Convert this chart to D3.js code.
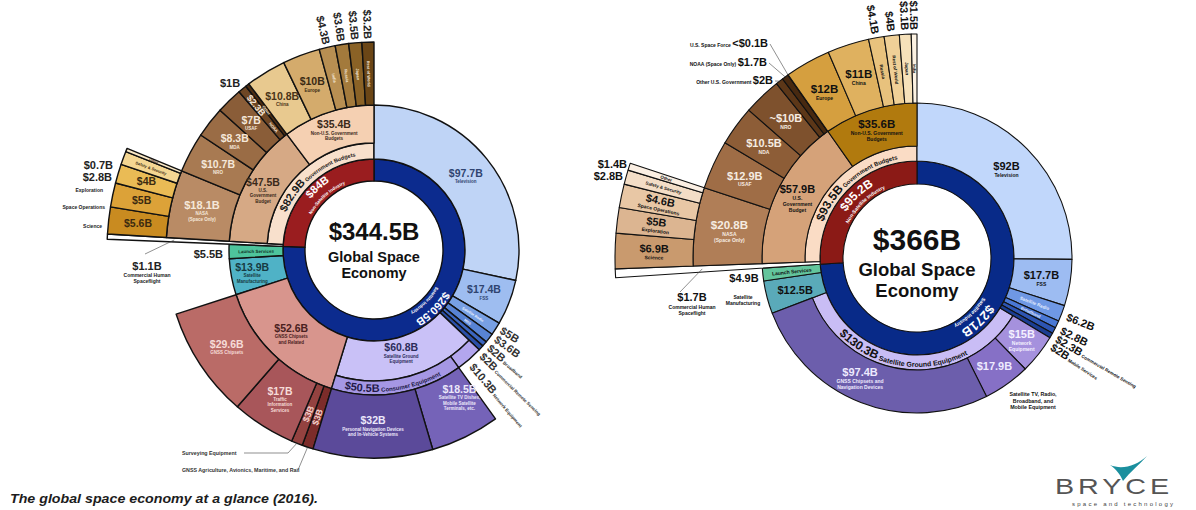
<!DOCTYPE html>
<html>
<head>
<meta charset="utf-8">
<script src="https://cdn.jsdelivr.net/npm/d3@7"></script>
<style>
  body { margin: 0; background: #fff; }
  svg { font-family: "Liberation Sans", Arial, Helvetica, sans-serif; }
</style>
</head>
<body>
<svg id="chart" width="1196" height="510"></svg>
<script>
// ---------- 2016 data (left) ----------
var services16 = ["Television", "FSS", "Satellite Radio", "MSS", "Broadband", "Commercial Remote Sensing"];
var servicesVal16 = [97.7, 17.4, 5, 3.6, 2, 2];
var network16 = ["Network Equipment"];
var networkVal16 = [10.3];
var consumer16 = ["Satellite TV Dishes, Mobile Satellite Terminals, etc.", "Personal Navigation Devices and In-Vehicle Systems"];
var consumerVal16 = [18.5, 32];
var gnss16 = ["GNSS Agriculture, Avionics, Maritime, and Rail", "Surveying Equipment", "Traffic Information Services", "GNSS Chipsets"];
var gnssVal16 = [3, 3, 17, 29.6];
var industry16 = ["Satellite Manufacturing", "Launch Services"];
var industryVal16 = [13.9, 5.5];
var human16 = ["Commercial Human Spaceflight"];
var humanVal16 = [1.1];
var nasa16 = ["Science", "Space Operations", "Exploration", "Safety & Security", "Other"];
var nasaVal16 = [5.6, 5, 4, 2.8, 0.7];
var usGov16 = ["NRO", "MDA", "USAF", "NOAA", "Other"];
var usGovVal16 = [10.7, 8.3, 7, 2.3, 1];
var nonUs16 = ["China", "Europe", "India", "Russia", "Japan", "Rest of World"];
var nonUsVal16 = [10.8, 10, 4.3, 3.6, 3.5, 3.2];
// stated totals printed on the chart
var groups16 = ["Global Space Economy", "Satellite Industry", "Non-Satellite Industry", "Government Budgets", "U.S. Government Budget", "Non-U.S. Government Budgets", "Satellite Ground Equipment", "Consumer Equipment", "GNSS Chipsets and Related", "NASA"];
var groupVals16 = [344.5, 260.5, 84, 82.9, 47.5, 35.4, 60.8, 50.5, 52.6, 18.1];

// ---------- current data (right) ----------
var services22 = ["Television", "FSS", "Satellite Radio", "Broadband", "Commercial Remote Sensing", "Mobile Services"];
var servicesVal22 = [92, 17.7, 6.2, 2.8, 2.3, 2];
var ground22 = ["Network Equipment", "Satellite TV, Radio, Broadband, and Mobile Equipment", "GNSS Chipsets and Navigation Devices"];
var groundVal22 = [15, 17.9, 97.4];
var industry22 = ["Satellite Manufacturing", "Launch Services"];
var industryVal22 = [12.5, 4.9];
var human22 = ["Commercial Human Spaceflight"];
var humanVal22 = [1.7];
var nasa22 = ["Science", "Exploration", "Space Operations", "Safety & Security", "Other"];
var nasaVal22 = [6.9, 5, 4.6, 2.8, 1.4];
var usGov22 = ["USAF", "NDA", "NRO", "Other U.S. Government", "NOAA", "U.S. Space Force"];
var usGovVal22 = [12.9, 10.5, 10, 2, 1.7, 0.1];
var nonUs22 = ["Europe", "China", "Russia", "Rest of World", "Japan", "India"];
var nonUsVal22 = [12, 11, 4.1, 4, 3.1, 1.5];
var groups22 = ["Global Space Economy", "Satellite Industry", "Non-Satellite Industry", "Government Budgets", "U.S. Government Budget", "Non-U.S. Government Budgets", "Satellite Ground Equipment", "NASA"];
var groupVals22 = [366, 271, 95.2, 93.5, 57.9, 35.6, 130.3, 20.8];
var valueText22 = { "NRO": "~$10B", "U.S. Space Force": "<$0.1B" };

// ---------- colours ----------
var fillServices16 = ["#bfd4f6", "#9ebdf0", "#78a0e4", "#5883d4", "#3c66c0", "#2a4fa8"];
var fillConsumer16 = ["#7563b8", "#5b4a9a"];
var fillGnss16 = ["#7c2c2a", "#944240", "#a8565a", "#ba6b67"];
var fillIndustry16 = ["#4fb2c6", "#4ec49c"];
var fillNasa16 = ["#c98b20", "#dca238", "#eabb55", "#f4d692", "#fbe9c6"];
var fillUs16 = ["#a87a52", "#9a6c45", "#8a5d38", "#6e4624", "#4e2e12"];
var fillNonUs16 = ["#e8c98f", "#d4ab6c", "#b88f52", "#a37a3c", "#8a6226", "#6b4616"];

var fillServices22 = ["#c1d7fb", "#9dbcf2", "#6f98e4", "#4a78d4", "#2d55b2", "#1b3d92"];
var fillGround22 = ["#a591dd", "#8670c6", "#6c5eac"];
var fillIndustry22 = ["#5aaab9", "#63c59c"];
var fillNasa22 = ["#c99a6e", "#dcb591", "#e8c7a5", "#f3ddc6", "#fbefe3"];
var fillUs22 = ["#9f6d46", "#8d5d37", "#7e512d", "#5c3718", "#472910", "#2d1808"];
var fillNonUs22 = ["#d59f3f", "#dfb15f", "#e8c27d", "#efd097", "#f6e1b9", "#fcf2e2"];

function leaves(names, vals, band, fills) {
  return names.map(function(n, i) { return {name: n, value: vals[i], band: band, fill: fills[i]}; });
}

var tree16 = {name: "Global Space Economy", children: [
  {name: "Satellite Industry", band: ["c0", "c1"], fill: "#0c2b8e", children: [
    {name: "Satellite Services", children: leaves(services16, servicesVal16, ["c1", "thick"], fillServices16)},
    {name: "Ground", children: [
      {name: "Satellite Ground Equipment", band: ["c1", "mid"], fill: "#c9c1f7", children: [
        ...leaves(network16, networkVal16, ["mid", "thick"], ["#b3a6ee"]),
        {name: "Consumer Equipment", band: ["mid", "thick"], fill: "#a597e4",
          children: leaves(consumer16, consumerVal16, ["thick", "outer"], fillConsumer16)}
      ]},
      {name: "GNSS Chipsets and Related", band: ["c1", "thick"], fill: "#d8958d",
        children: leaves(gnss16, gnssVal16, ["thick", "outer"], fillGnss16)}
    ]},
    ...leaves(industry16, industryVal16, ["c1", "thick"], fillIndustry16)
  ]},
  {name: "Non-Satellite Industry", band: ["c0", "c1"], fill: "#9a1d1f", children: [
    ...leaves(human16, humanVal16, ["c1", "nasa"], ["#ffffff"]),
    {name: "Government Budgets", band: ["c1", "thin"], fill: "#f8e0cc", children: [
      {name: "U.S. Government Budget", band: ["thin", "thick"], fill: "#d6a985", children: [
        {name: "NASA", band: ["thick", "outer"], fill: "#b98b65",
          children: leaves(nasa16, nasaVal16, ["outer", "nasa"], fillNasa16)},
        ...leaves(usGov16, usGovVal16, ["thick", "outer"], fillUs16)
      ]},
      {name: "Non-U.S. Government Budgets", band: ["thin", "thick"], fill: "#f5d0b2",
        children: leaves(nonUs16, nonUsVal16, ["thick", "outer"], fillNonUs16)}
    ]}
  ]}
]};

var tree22 = {name: "Global Space Economy", children: [
  {name: "Satellite Industry", band: ["c0", "c1"], fill: "#082a88", children: [
    {name: "Satellite Services", children: leaves(services22, servicesVal22, ["c1", "thick"], fillServices22)},
    {name: "Satellite Ground Equipment", band: ["c1", "thin"], fill: "#c9bdf5",
      children: leaves(ground22, groundVal22, ["thin", "thick"], fillGround22)},
    ...leaves(industry22, industryVal22, ["c1", "thick"], fillIndustry22)
  ]},
  {name: "Non-Satellite Industry", band: ["c0", "c1"], fill: "#8b1a16", children: [
    ...leaves(human22, humanVal22, ["c1", "nasa"], ["#ffffff"]),
    {name: "Government Budgets", band: ["c1", "thin"], fill: "#fadcc5", children: [
      {name: "U.S. Government Budget", band: ["thin", "thick"], fill: "#d5a279", children: [
        {name: "NASA", band: ["thick", "outer"], fill: "#b07e57",
          children: leaves(nasa22, nasaVal22, ["outer", "nasa"], fillNasa22)},
        ...leaves(usGov22, usGovVal22, ["thick", "outer"], fillUs22)
      ]},
      {name: "Non-U.S. Government Budgets", band: ["thin", "thick"], fill: "#b17a0e",
        children: leaves(nonUs22, nonUsVal22, ["thick", "outer"], fillNonUs22)}
    ]}
  ]}
]};

// ---------- label layout (left) ----------
var W = "#f5e8da";
var labels16 = [
  {id: "Television", m: "in", lines: ["Television"], c: "#2f4470"},
  {id: "FSS", m: "in", lines: ["FSS"], c: "#2f4470"},
  {id: "Satellite Radio", m: "in", rot: 1, nv: 1, lines: ["Satellite Radio"], c: "#eef2ff", ns: 3.6},
  {id: "MSS", m: "in", rot: 1, nv: 1, lines: ["MSS"], c: "#eef2ff", ns: 3.6},
  {id: "Satellite Radio", m: "out", off: 5, da: -0.9, c: "#333"},
  {id: "MSS", m: "out", off: 5, da: -1.5, c: "#333"},
  {id: "Broadband", m: "out", off: 5, da: -0.2, name: "Broadband", c: "#333"},
  {id: "Commercial Remote Sensing", m: "out", off: 5, da: 1.8, name: "Commercial Remote Sensing", c: "#333"},
  {id: "Network Equipment", m: "out", off: 6, da: 0.8, name: "Network Equipment", c: "#333"},
  {id: "Satellite Ground Equipment", m: "in", lines: ["Satellite Ground", "Equipment"], c: "#2c2c5a", dr: -4},
  {id: "Personal Navigation Devices and In-Vehicle Systems", m: "in", lines: ["Personal Navigation Devices", "and In-Vehicle Systems"], c: "#ece8fa"},
  {id: "Satellite TV Dishes, Mobile Satellite Terminals, etc.", m: "in", lines: ["Satellite TV Dishes,", "Mobile Satellite", "Terminals, etc."], c: "#ece8fa", da: -4, dr: -6},
  {id: "GNSS Chipsets and Related", m: "in", lines: ["GNSS Chipsets", "and Related"], c: "#4a2020"},
  {id: "GNSS Chipsets", m: "in", lines: ["GNSS Chipsets"], c: "#f6dcd8"},
  {id: "Traffic Information Services", m: "in", lines: ["Traffic", "Information", "Services"], c: "#f6dcd8"},
  {id: "Surveying Equipment", m: "in", rot: 1, lines: [], c: "#f3cfc8", vs: 9},
  {id: "GNSS Agriculture, Avionics, Maritime, and Rail", m: "in", rot: 1, lines: [], c: "#f3cfc8", vs: 9},
  {id: "Surveying Equipment", m: "free", x: -192, anchor: "start", rows: [[205, "Surveying Equipment", 5.3]], lead: [[-130, 203], [-86, 203]], lr: 208, c: "#333"},
  {id: "GNSS Agriculture, Avionics, Maritime, and Rail", m: "free", x: -192, anchor: "start", rows: [[222, "GNSS Agriculture, Avionics, Maritime, and Rail", 5.3]], lead: [[-76, 220]], lr: 208, c: "#333"},
  {id: "Satellite Manufacturing", m: "in", lines: ["Satellite", "Manufacturing"], c: "#173a42", dr: 6},
  {id: "Launch Services", m: "in", rot: 1, nv: 1, lines: ["Launch Services"], ns: 4.5, c: "#12352a"},
  {id: "Launch Services", m: "free", x: -151, anchor: "end", rows: [[8, "@", 11]], c: "#222"},
  {id: "Commercial Human Spaceflight", m: "free", x: -227, rows: [[20, "@", 11], [27, "Commercial Human", 5], [33, "Spaceflight", 5]], lead: [[-229, 4]], lr: 200, c: "#222"},
  {id: "U.S. Government Budget", m: "in", lines: ["U.S.", "Government", "Budget"], c: "#3b2a1a"},
  {id: "NASA", m: "in", lines: ["NASA", "(Space Only)"], c: W, vs: 11},
  {id: "NRO", m: "in", lines: ["NRO"], c: W},
  {id: "MDA", m: "in", lines: ["MDA"], c: W},
  {id: "USAF", m: "in", lines: ["USAF"], c: W},
  {id: "NOAA", m: "in", rot: 1, lines: [], c: W, vs: 9, dr: 10},
  {id: "NOAA", m: "in", rot: 1, nv: 1, lines: ["NOAA"], ns: 4, dr: -18, c: W},
  {id: "U.S. Government Budget:Other", m: "in", rot: 1, nv: 1, lines: ["Other"], ns: 4, c: W},
  {id: "U.S. Government Budget:Other", m: "free", x: -144, rows: [[-163, "@", 11]], c: "#222"},
  {id: "Non-U.S. Government Budgets", m: "in", lines: ["Non-U.S. Government", "Budgets"], c: "#3b2a1a"},
  {id: "China", m: "in", lines: ["China"], c: "#4a3418"},
  {id: "Europe", m: "in", lines: ["Europe"], c: "#3a2a14"},
  {id: "India", m: "in", rot: 1, nv: 1, lines: ["India"], ns: 4, c: W},
  {id: "Russia", m: "in", rot: 1, nv: 1, lines: ["Russia"], ns: 4, c: W},
  {id: "Japan", m: "in", rot: 1, nv: 1, lines: ["Japan"], ns: 4, c: W},
  {id: "Rest of World", m: "in", rot: 1, nv: 1, lines: ["Rest of World"], ns: 4, c: W},
  {id: "India", m: "out", off: 3, c: "#222"},
  {id: "Russia", m: "out", off: 3, c: "#222"},
  {id: "Japan", m: "out", off: 3, c: "#222"},
  {id: "Rest of World", m: "out", off: 3, c: "#222"},
  {id: "Science", m: "in", lines: [], c: "#3b2a10"},
  {id: "Space Operations", m: "in", lines: [], c: "#3b2a10"},
  {id: "Exploration", m: "in", lines: [], c: "#3b2a10"},
  {id: "Safety & Security", m: "in", rot: 1, nv: 1, lines: ["Safety & Security"], ns: 4, c: "#3b2a10"},
  {id: "NASA:Other", m: "in", rot: 1, nv: 1, lines: ["Other"], ns: 3.6, c: "#3b2a10"},
  {id: "NASA:Other", m: "free", x: -261, anchor: "end", rows: [[-81, "@", 11]], c: "#222"},
  {id: "Safety & Security", m: "free", x: -262, anchor: "end", rows: [[-69, "@", 11]], c: "#222"},
  {m: "free", x: -271, anchor: "end", rows: [[-58, "Exploration", 5]], c: "#222"},
  {m: "free", x: -269, anchor: "end", rows: [[-41, "Space Operations", 5]], c: "#222"},
  {m: "free", x: -272, anchor: "end", rows: [[-22, "Science", 5]], c: "#222"},
  {id: "Non-Satellite Industry", m: "curve", r: 81.5, a: 318, parts: [["@", 11]], c: "#fff"},
  {m: "curve", r: 72, a: 318, parts: [["Non-Satellite Industry", 4.5]], c: "#fff"},
  {id: "Satellite Industry", m: "curve", r: 81.5, a: 135, parts: [["@", 11]], c: "#fff"},
  {m: "curve", r: 72, a: 135, parts: [["Satellite Industry", 4.5]], c: "#fff"},
  {id: "Government Budgets", m: "curve", r: 95.5, a: 321, parts: [["@", 11], [" Government Budgets", 5.5]], c: "#1a1a1a"},
  {id: "Consumer Equipment", m: "curve", r: 142, a: 172, ccw: 1, parts: [["@", 11], [" Consumer Equipment", 6]], c: "#221a48"}
];

// ---------- label layout (right) ----------
var V = "#f6ece2";
var labels22 = [
  {id: "Television", m: "in", lines: ["Television"]},
  {id: "FSS", m: "in", lines: ["FSS"]},
  {id: "Satellite Radio", m: "in", rot: 1, nv: 1, lines: ["Satellite Radio"], c: "#e6eeff", ns: 4.5},
  {id: "Broadband", m: "in", rot: 1, nv: 1, lines: ["Broadband"], c: "#e6eeff", ns: 4},
  {id: "Satellite Radio", m: "out", off: 6, da: 0.4},
  {id: "Broadband", m: "out", off: 6, da: 1.2},
  {id: "Commercial Remote Sensing", m: "out", off: 6, da: 2.1, name: "Commercial Remote Sensing"},
  {id: "Mobile Services", m: "out", off: 6, da: 3.2, name: "Mobile Services"},
  {id: "Satellite Ground Equipment", m: "curve", r: 109, a: 189, ccw: 1, parts: [["@", 12], [" Satellite Ground Equipment", 7]]},
  {id: "GNSS Chipsets and Navigation Devices", m: "in", lines: ["GNSS Chipsets and", "Navigation Devices"], c: "#eeeaff", da: 4},
  {id: "Satellite TV, Radio, Broadband, and Mobile Equipment", m: "in", lines: [], c: "#eeeaff"},
  {m: "free", x: 116, rows: [[138, "Satellite TV, Radio,", 5.3], [144.5, "Broadband, and", 5.3], [151, "Mobile Equipment", 5.3]]},
  {id: "Network Equipment", m: "in", lines: ["Network", "Equipment"], c: "#f4f0ff"},
  {id: "Satellite Manufacturing", m: "in", lines: []},
  {m: "free", x: -174, rows: [[41, "Satellite", 5], [47, "Manufacturing", 5]]},
  {id: "Launch Services", m: "in", rot: 1, nv: 1, lines: ["Launch Services"], ns: 5},
  {id: "Launch Services", m: "free", x: -173, rows: [[24, "@", 11]]},
  {id: "Commercial Human Spaceflight", m: "free", x: -225, rows: [[43, "@", 11], [51, "Commercial Human", 5], [57, "Spaceflight", 5]], lead: [[-237, 34]], lr: 215},
  {id: "U.S. Government Budget", m: "in", lines: ["U.S.", "Government", "Budget"]},
  {id: "NASA", m: "in", lines: ["NASA", "(Space Only)"], c: V, vs: 11.5},
  {id: "USAF", m: "in", lines: ["USAF"], c: V, vs: 11},
  {id: "NDA", m: "in", lines: ["NDA"], c: V, vs: 11},
  {id: "NRO", m: "in", lines: ["NRO"], c: V, vs: 11},
  {id: "Other U.S. Government", m: "free", x: -144, anchor: "end", rows: [[-174, "Other U.S. Government ", 5, "@", 11]], lead: [[-142, -177]], lr: 224},
  {id: "NOAA", m: "free", x: -150, anchor: "end", rows: [[-192, "NOAA (Space Only) ", 5, "@", 11]], lead: [[-148, -195]], lr: 224},
  {id: "U.S. Space Force", m: "free", x: -149, anchor: "end", rows: [[-211, "U.S. Space Force ", 5, "@", 11]], lead: [[-147, -214]], lr: 224},
  {id: "Non-U.S. Government Budgets", m: "in", lines: ["Non-U.S. Government", "Budgets"], vs: 11.5},
  {id: "Europe", m: "in", lines: ["Europe"], vs: 11.5},
  {id: "China", m: "in", lines: ["China"], vs: 11.5},
  {id: "Russia", m: "in", rot: 1, nv: 1, lines: ["Russia"], ns: 4.5},
  {id: "Rest of World", m: "in", rot: 1, nv: 1, lines: ["Rest of World"], ns: 4.5},
  {id: "Japan", m: "in", rot: 1, nv: 1, lines: ["Japan"], ns: 4.5},
  {id: "India", m: "in", rot: 1, nv: 1, lines: ["India"], ns: 4},
  {id: "Russia", m: "out", off: 4},
  {id: "Rest of World", m: "out", off: 4},
  {id: "Japan", m: "out", off: 4},
  {id: "India", m: "out", off: 4},
  {id: "Science", m: "in", rot: 1, lines: ["Science"]},
  {id: "Exploration", m: "in", rot: 1, lines: ["Exploration"]},
  {id: "Space Operations", m: "in", rot: 1, lines: ["Space Operations"]},
  {id: "Safety & Security", m: "in", rot: 1, nv: 1, lines: ["Safety & Security"], ns: 4.5},
  {id: "NASA:Other", m: "in", rot: 1, nv: 1, lines: ["Other"], ns: 4.5},
  {id: "Safety & Security", m: "free", x: -294, anchor: "end", rows: [[-78, "@", 11]]},
  {id: "NASA:Other", m: "free", x: -290, anchor: "end", rows: [[-90, "@", 11]]},
  {id: "Non-Satellite Industry", m: "curve", r: 84.5, a: 316, parts: [["@", 12]], c: "#fff"},
  {m: "curve", r: 76.5, a: 316, parts: [["Non-Satellite Industry", 5]], c: "#fff"},
  {id: "Satellite Industry", m: "curve", r: 84.5, a: 136, parts: [["@", 13]], c: "#fff"},
  {m: "curve", r: 76.5, a: 136, parts: [["Satellite Industry", 5]], c: "#fff"},
  {id: "Government Budgets", m: "curve", r: 100.5, a: 320, parts: [["@", 12], [" Government Budgets", 6]]}
];

// ---------- drawing ----------
var svg = d3.select("#chart");
var uid = 0;
function polar(a, r) { var t = a * Math.PI / 180; return [r * Math.sin(t), -r * Math.cos(t)]; }
function deg(x) { return x * 180 / Math.PI; }
function rot(a) { return a < 180 ? a - 90 : a + 90; }
function fmt(v) { return "$" + v + "B"; }

function arcPath(r, a0, a1, ccw) {
  var p0 = polar(ccw ? a1 : a0, r), p1 = polar(ccw ? a0 : a1, r);
  var large = Math.abs(a1 - a0) > 180 ? 1 : 0;
  return "M" + p0[0] + "," + p0[1] + "A" + r + "," + r + " 0 " + large + " " + (ccw ? 0 : 1) + " " + p1[0] + "," + p1[1];
}

function drawSunburst(cfg) {
  var g = svg.append("g").attr("transform", "translate(" + cfg.cx + "," + cfg.cy + ")");
  var R = cfg.R;
  var root = d3.hierarchy(cfg.tree).sum(function(d) { return d.value || 0; });
  d3.partition().size([2 * Math.PI, 1])(root);

  var key = function(d) { return d.data.name === "Other" ? d.parent.data.name + ":Other" : d.data.name; };
  var byId = new Map(root.descendants().map(function(d) { return [key(d), d]; }));
  var stated = new Map(cfg.groups.map(function(n, i) { return [n, cfg.groupVals[i]]; }));
  var vt = function(d) {
    var n = d.data.name;
    if (cfg.override && cfg.override[n]) return cfg.override[n];
    if (stated.has(n)) return fmt(stated.get(n));
    return fmt(+d.value.toFixed(1));
  };

  var arc = d3.arc()
    .startAngle(function(d) { return d.x0; })
    .endAngle(function(d) { return d.x1; })
    .innerRadius(function(d) { return R[d.data.band[0]]; })
    .outerRadius(function(d) { return R[d.data.band[1]]; });

  g.selectAll("path.seg")
    .data(root.descendants().filter(function(d) { return d.data.band; }))
    .join("path")
    .attr("class", "seg")
    .attr("d", arc)
    .attr("fill", function(d) { return d.data.fill; })
    .attr("stroke", "#111")
    .attr("stroke-width", cfg.sw)
    .attr("stroke-linejoin", "round");

  // centre
  cfg.center.forEach(function(c) {
    g.append("text").attr("x", 0).attr("y", c[0]).attr("text-anchor", "middle")
      .attr("font-size", c[2]).attr("font-weight", 700).attr("fill", "#111")
      .text(c[1] === "@" ? fmt(stated.get("Global Space Economy")) : c[1]);
  });

  cfg.labels.forEach(function(L) {
    var d = L.id ? byId.get(L.id) : null;
    var a = 0, r0 = 0, r1 = 0;
    if (d) { a = deg((d.x0 + d.x1) / 2) + (L.da || 0); r0 = R[d.data.band[0]]; r1 = R[d.data.band[1]]; }
    var val = d ? vt(d) : "";
    var col = L.c || "#111";
    var vs = L.vs || cfg.vs, ns = L.ns || cfg.ns;

    if (L.m === "in") {
      var p = polar(a, (r0 + r1) / 2 + (L.dr || 0));
      var lines = L.lines || [];
      var h = (L.nv ? 0 : vs) + lines.length * ns * 1.2;
      var t = g.append("text")
        .attr("transform", "translate(" + p[0] + "," + p[1] + ") rotate(" + (L.rot ? rot(a) : 0) + ")")
        .attr("text-anchor", "middle").attr("fill", col).attr("font-weight", 700);
      var yy = -h / 2;
      if (!L.nv) { t.append("tspan").attr("x", 0).attr("y", yy + vs * 0.82).attr("font-size", vs).text(val); yy += vs; }
      lines.forEach(function(s) {
        t.append("tspan").attr("x", 0).attr("y", yy + ns * 1.0).attr("font-size", ns).text(s);
        yy += ns * 1.2;
      });
    } else if (L.m === "out") {
      var q = polar(a, r1 + (L.off || 4));
      var ovs = L.vs || 11;
      var t2 = g.append("text")
        .attr("transform", "translate(" + q[0] + "," + q[1] + ") rotate(" + rot(a) + ")")
        .attr("text-anchor", a < 180 ? "start" : "end").attr("dy", ovs * 0.35)
        .attr("fill", col).attr("font-weight", 700);
      t2.append("tspan").attr("font-size", ovs).text(val);
      if (L.name) t2.append("tspan").attr("font-size", L.ns || 4.5).text(" " + L.name);
    } else if (L.m === "free") {
      L.rows.forEach(function(row) {
        var t3 = g.append("text").attr("x", L.x).attr("y", row[0])
          .attr("text-anchor", L.anchor || "middle").attr("fill", col).attr("font-weight", 700);
        for (var i = 1; i < row.length; i += 2) {
          t3.append("tspan").attr("font-size", row[i + 1]).text(row[i] === "@" ? val : row[i]);
        }
      });
      if (L.lead) {
        var pts = L.lead.slice();
        if (L.lr) pts.push(polar(deg((d.x0 + d.x1) / 2), L.lr));
        g.append("path").attr("d", d3.line()(pts)).attr("fill", "none")
          .attr("stroke", "#444").attr("stroke-width", 0.6);
      }
    } else if (L.m === "curve") {
      var id = "cp" + (uid++);
      g.append("path").attr("id", id).attr("d", arcPath(L.r, L.a - 80, L.a + 80, L.ccw)).attr("fill", "none");
      var tp = g.append("text").attr("fill", col).attr("font-weight", 700)
        .append("textPath").attr("href", "#" + id).attr("startOffset", "50%").attr("text-anchor", "middle");
      L.parts.forEach(function(pt) {
        tp.append("tspan").attr("font-size", pt[1]).text(pt[0] === "@" ? val : pt[0]);
      });
    }
  });
}

drawSunburst({
  cx: 374, cy: 250, tree: tree16, sw: 1.4, vs: 10.5, ns: 4.5,
  R: {c0: 69, c1: 91, thin: 107, mid: 131, thick: 145, outer: 208, nasa: 267},
  groups: groups16, groupVals: groupVals16, labels: labels16,
  center: [[-10, "@", 24], [12, "Global Space", 14.5], [28, "Economy", 14.5]]
});

drawSunburst({
  cx: 917, cy: 258, tree: tree22, sw: 1.1, vs: 11, ns: 5,
  R: {c0: 74, c1: 97, thin: 112, thick: 155, outer: 224, nasa: 302},
  groups: groups22, groupVals: groupVals22, override: valueText22, labels: labels22,
  center: [[-8, "@", 30], [17.5, "Global Space", 18.5], [38.5, "Economy", 18.5]]
});

// caption
svg.append("text").attr("x", 10).attr("y", 503)
  .attr("font-size", 13).attr("font-weight", 700).attr("font-style", "italic").attr("fill", "#1c1c1c")
  .attr("textLength", 308).attr("lengthAdjust", "spacingAndGlyphs")
  .text("The global space economy at a glance (2016).");

// logo
var logo = svg.append("g");
logo.append("path")
  .attr("d", "M1110,465 C1122,470 1136,466 1147,456 C1139,465 1130,472 1123,481 C1120,474 1116,469 1110,465 Z")
  .attr("fill", "#1b8f9e");
logo.append("text").attr("x", 1055).attr("y", 494).attr("font-size", 22).attr("fill", "#555")
  .attr("letter-spacing", 3)
  .attr("textLength", 118).attr("lengthAdjust", "spacingAndGlyphs").text("BRYCE");
logo.append("text").attr("x", 1072).attr("y", 506).attr("font-size", 6).attr("fill", "#444")
  .attr("textLength", 101).attr("lengthAdjust", "spacing").text("space and technology");
</script>
</body>
</html>
